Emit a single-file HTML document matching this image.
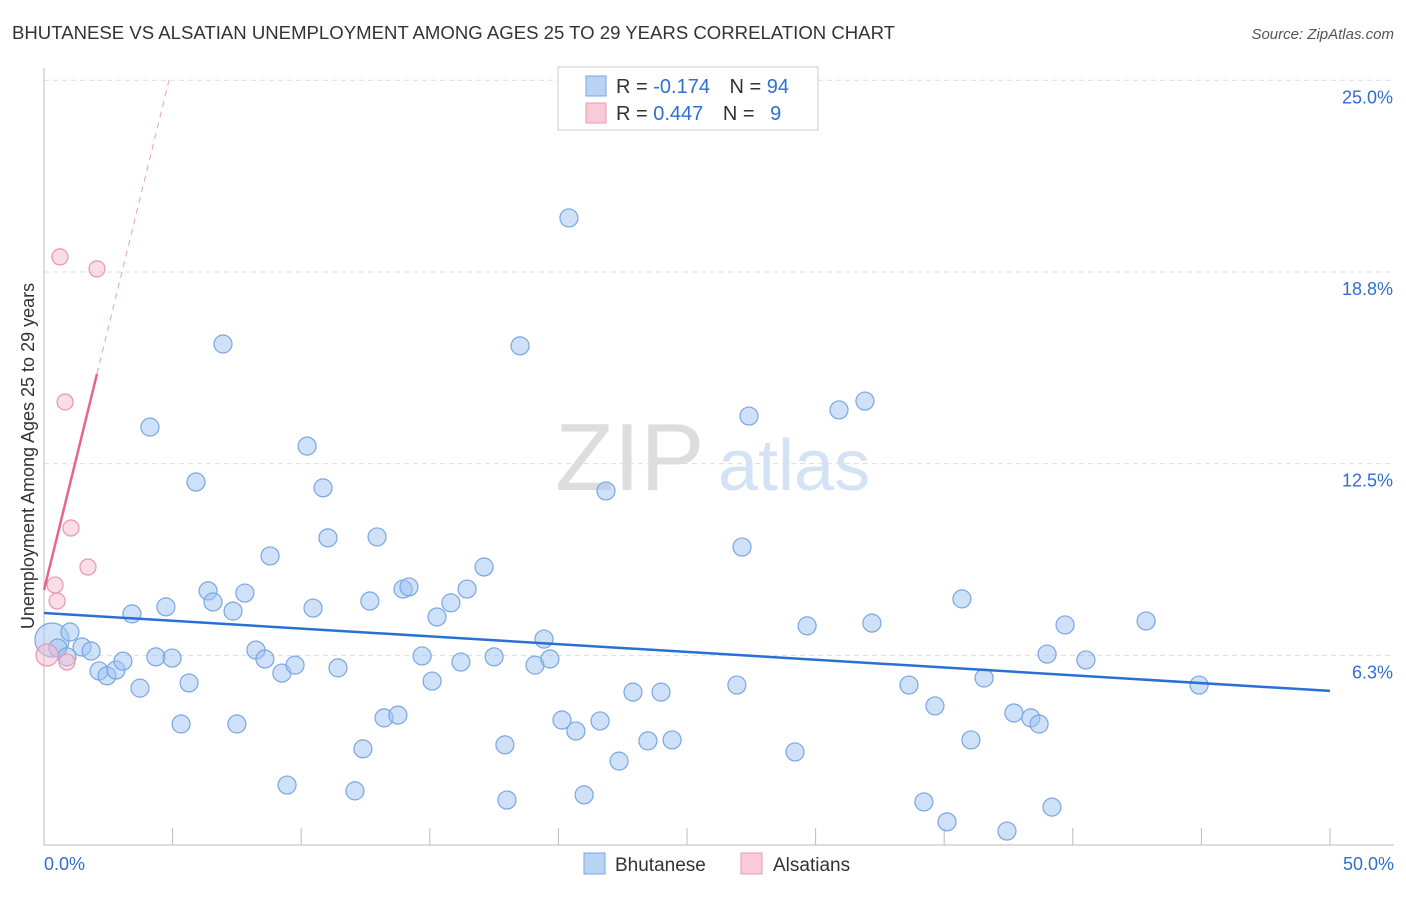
<!DOCTYPE html>
<html><head><meta charset="utf-8"><style>
body{margin:0;background:#fff;font-family:"Liberation Sans",sans-serif}
svg text{font-family:"Liberation Sans",sans-serif}
</style></head><body>
<svg id="chart" width="1406" height="892" viewBox="0 0 1406 892" xmlns="http://www.w3.org/2000/svg">
<text x="12" y="39" font-size="18" fill="#333" textLength="883" lengthAdjust="spacingAndGlyphs">BHUTANESE VS ALSATIAN UNEMPLOYMENT AMONG AGES 25 TO 29 YEARS CORRELATION CHART</text>
<text x="1394" y="39" font-size="15" fill="#555" text-anchor="end" font-style="italic">Source: ZipAtlas.com</text>
<g>
<text x="555" y="490" font-size="96" fill="#ddd" font-family="Liberation Serif">ZIP</text>
<text x="718" y="490" font-size="72" fill="#d4e2f5">atlas</text>
</g>
<g id="grid"></g>
<g id="axes"></g>
<g id="marks"></g>
<text transform="translate(34,456) rotate(-90)" font-size="18" fill="#333" text-anchor="middle">Unemployment Among Ages 25 to 29 years</text>
<g>
<rect x="558" y="67" width="260" height="63" fill="#fff" stroke="#ccc"/>
<rect x="586" y="76" width="20" height="20" fill="#b9d3f5" stroke="#7aa6e0"/>
<text x="616" y="93" font-size="20" fill="#333">R = <tspan fill="#2f6fd0">-0.174</tspan>  <tspan dx="14">N = </tspan><tspan fill="#2f6fd0">94</tspan></text>
<rect x="586" y="103" width="20" height="20" fill="#f9cad8" stroke="#e99ab2"/>
<text x="616" y="120" font-size="20" fill="#333">R = <tspan fill="#2f6fd0"> 0.447</tspan>  <tspan dx="14">N = </tspan><tspan fill="#2f6fd0" dx="10">9</tspan></text>
</g>
<g>
<rect x="584" y="853" width="21" height="21" fill="#b9d3f5" stroke="#7aa6e0"/>
<text x="615" y="871" font-size="19" fill="#333">Bhutanese</text>
<rect x="741" y="853" width="21" height="21" fill="#f9cad8" stroke="#e99ab2"/>
<text x="773" y="871" font-size="19" fill="#333">Alsatians</text>
</g>
</svg>
<script>
const yTicks=[25,18.75,12.5,6.25];
const yTickLabels=["25.0%","18.8%","12.5%","6.3%"];
const xTickLabels=["0.0%","50.0%"];
const blueX=[.31,.54,1.01,.89,1.48,1.83,2.14,2.45,2.80,3.07,3.42,3.73,4.12,4.35,4.74,4.98,5.33,5.64,5.91,6.38,6.57,6.96,7.35,7.50,7.81,8.24,8.59,8.79,9.25,9.45,9.76,10.23,10.46,10.85,11.04,11.43,12.09,12.40,12.67,12.95,13.22,13.76,13.96,14.19,14.70,15.09,15.28,15.82,16.21,16.45,17.11,17.50,17.92,18.00,18.51,19.09,19.44,19.67,20.14,20.41,20.68,21.00,21.62,21.85,22.36,22.90,23.48,23.99,24.42,26.94,27.14,27.41,29.20,29.67,30.91,31.92,32.19,33.63,34.21,34.64,35.11,35.69,36.04,36.55,37.44,37.71,38.37,38.69,39.00,39.19,39.70,40.51,42.85,44.91];
const blueY=[6.75,6.49,7.01,6.20,6.52,6.39,5.74,5.58,5.77,6.06,7.60,5.18,13.69,6.20,7.83,6.16,4.01,5.35,11.90,8.35,7.99,16.40,7.69,4.01,8.28,6.42,6.13,9.49,5.67,2.02,5.93,13.07,7.79,11.71,10.08,5.84,1.83,3.20,8.02,10.11,4.21,4.30,8.41,8.48,6.23,5.41,7.50,7.96,6.03,8.41,9.13,6.20,3.33,1.53,16.34,5.93,6.78,6.13,4.14,20.51,3.78,1.70,4.11,11.61,2.80,5.05,3.46,5.05,3.49,5.28,9.78,14.05,3.10,7.21,14.25,14.54,7.30,5.28,1.47,4.60,0.82,8.09,3.49,5.51,0.52,4.37,4.21,4.01,6.29,1.30,7.24,6.10,7.37,5.28];
const pinkX=[.12,.43,.51,.62,.82,.89,1.05,1.71,2.06];
const pinkY=[6.26,8.54,8.02,19.24,14.51,6.03,10.40,9.13,18.85];
const blueTrend=[7.63,5.09];
const pinkTrend=[8.38,3.42];
const X0=44,X1=1330,Y0=847,PY=30.67;
const sx=v=>X0+(X1-X0)*v/50, sy=v=>Y0-v*PY;
const NS="http://www.w3.org/2000/svg";
function mk(tag,attrs,parent){const e=document.createElementNS(NS,tag);for(const k in attrs)e.setAttribute(k,attrs[k]);document.getElementById(parent).appendChild(e);return e;}
yTicks.forEach((t,i)=>{
 const l=mk('line',{x1:44,x2:1394,y1:sy(t),y2:sy(t),stroke:'#ddd','stroke-dasharray':'5,4'},'grid');
 
 
 const tx=mk('text',{x:1393,y:sy(t)+23,'font-size':18,fill:'#2f6fd0','text-anchor':'end'},'grid');
 tx.textContent=yTickLabels[i];
 
 
});
let a=mk('line',{x1:44,x2:44,y1:68,y2:845,stroke:'#bbb'},'axes');


a=mk('line',{x1:44,x2:1394,y1:845,y2:845,stroke:'#bbb'},'axes');


for(let i=1;i<=10;i++){const t=mk('line',{x1:sx(i*5),x2:sx(i*5),y1:828,y2:845,stroke:'#bbb'},'axes');
 
 }
[[0,'start',44],[50,'end',1394]].forEach((d,i)=>{const t=mk('text',{x:d[2],y:870,'font-size':18,fill:'#2f6fd0','text-anchor':d[1]},'axes');t.textContent=xTickLabels[i];
 
 });
blueX.forEach((x,i)=>{const c=mk('circle',{cx:sx(x),cy:sy(blueY[i]),r:i==0?17:9,fill:'rgba(160,196,242,0.5)',stroke:'#78a6e2','stroke-width':1.2},'marks');
 
 });
pinkX.forEach((x,i)=>{const c=mk('circle',{cx:sx(x),cy:sy(pinkY[i]),r:i==0?11:8,fill:'rgba(248,188,208,0.5)',stroke:'#e995b0','stroke-width':1.2},'marks');
 
 });
let tl=mk('line',{x1:sx(0),y1:sy(blueTrend[0]),x2:sx(50),y2:sy(blueTrend[1]),stroke:'#2a6fd3','stroke-width':2.5},'marks');


const pxEnd=2.06, pxTop=(25-pinkTrend[0])/pinkTrend[1];
tl=mk('line',{x1:sx(0),y1:sy(pinkTrend[0]),x2:sx(pxEnd),y2:sy(pinkTrend[0]+pinkTrend[1]*pxEnd),stroke:'#e8648e','stroke-width':2.5},'marks');


tl=mk('line',{x1:sx(pxEnd),y1:sy(pinkTrend[0]+pinkTrend[1]*pxEnd),x2:sx(pxTop),y2:sy(25),stroke:'#e8a0b8','stroke-width':1,'stroke-dasharray':'6,5'},'marks');


</script>
</body></html>
